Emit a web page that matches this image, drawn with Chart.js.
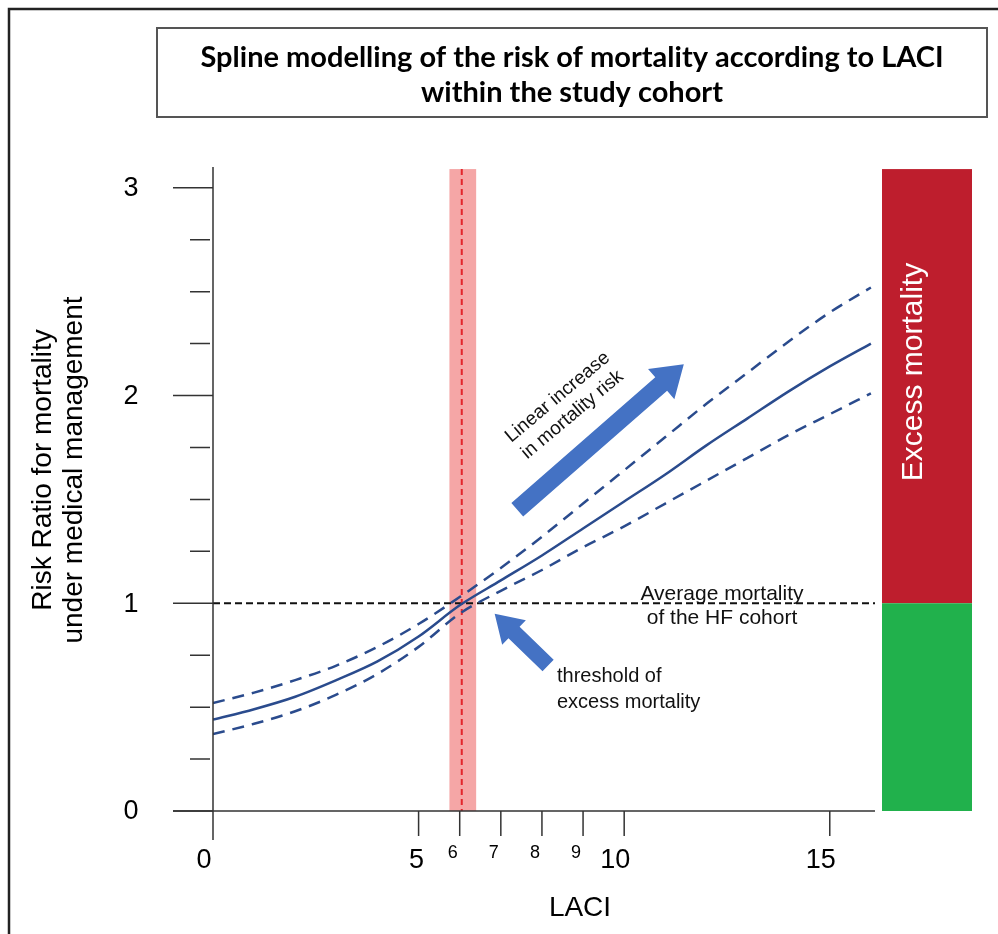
<!DOCTYPE html>
<html>
<head>
<meta charset="utf-8">
<script src="https://cdn.jsdelivr.net/npm/chart.js@4"></script>
<style>
  html, body { margin: 0; padding: 0; background: #fff; }
</style>
</head>
<body>
<canvas id="myChart" width="998" height="934"></canvas>
<script>
// spline, one value per LACI unit
let laci = [0, 1, 2, 3, 4, 5, 6, 7, 8, 9, 10, 11, 12, 13, 14, 15, 16];
let riskRatio = [0.44, 0.49, 0.55, 0.63, 0.72, 0.84, 0.99, 1.11, 1.23, 1.36, 1.49, 1.62, 1.76, 1.89, 2.02, 2.14, 2.25];
let upperCI = [0.52, 0.57, 0.63, 0.70, 0.79, 0.90, 1.03, 1.17, 1.32, 1.48, 1.64, 1.80, 1.96, 2.11, 2.26, 2.40, 2.52];
let lowerCI = [0.37, 0.42, 0.48, 0.56, 0.66, 0.79, 0.95, 1.06, 1.16, 1.27, 1.37, 1.48, 1.59, 1.70, 1.81, 1.91, 2.01];

// axis ticks
let yMajorTicks = [0, 1, 2, 3];
let yMinorTicks = [0.25, 0.5, 0.75, 1.25, 1.5, 1.75, 2.25, 2.5, 2.75];
let xBigTicks = [0, 5, 10, 15];
let xSmallTicks = [6, 7, 8, 9];

// threshold of excess mortality and its band, average risk line
let threshold = 6.05;
let thresholdBand = [5.75, 6.4];
let averageRisk = 1;

const curveBlue = '#2a4b8d';
const arrowBlue = '#4472c4';
const sans = '"Liberation Sans", Arial, sans-serif';

function toPoints(ys) {
  return laci.map((x, i) => ({ x: x, y: ys[i] }));
}

function drawArrow(ctx, x1, y1, x2, y2, shaft, head, headLen) {
  const ang = Math.atan2(y2 - y1, x2 - x1);
  const len = Math.hypot(x2 - x1, y2 - y1);
  ctx.save();
  ctx.translate(x1, y1);
  ctx.rotate(ang);
  ctx.beginPath();
  ctx.moveTo(0, -shaft / 2);
  ctx.lineTo(len - headLen, -shaft / 2);
  ctx.lineTo(len - headLen, -head / 2);
  ctx.lineTo(len, 0);
  ctx.lineTo(len - headLen, head / 2);
  ctx.lineTo(len - headLen, shaft / 2);
  ctx.lineTo(0, shaft / 2);
  ctx.closePath();
  ctx.fillStyle = arrowBlue;
  ctx.fill();
  ctx.restore();
}

const decor = {
  id: 'decor',
  beforeDatasetsDraw(chart) {
    const ctx = chart.ctx;
    const xs = chart.scales.x, ys = chart.scales.y;
    const top = ys.getPixelForValue(3.09), bottom = ys.getPixelForValue(0);

    // band around the threshold
    const b1 = xs.getPixelForValue(thresholdBand[0]);
    const b2 = xs.getPixelForValue(thresholdBand[1]);
    ctx.fillStyle = '#f5a6a6';
    ctx.fillRect(b1, top, b2 - b1, bottom - top);

    // average mortality line
    ctx.save();
    ctx.strokeStyle = '#111';
    ctx.lineWidth = 2;
    ctx.setLineDash([7, 4]);
    ctx.beginPath();
    ctx.moveTo(xs.getPixelForValue(0), ys.getPixelForValue(averageRisk));
    ctx.lineTo(xs.right, ys.getPixelForValue(averageRisk));
    ctx.stroke();

    // threshold line
    ctx.strokeStyle = '#e3262c';
    ctx.setLineDash([6, 4]);
    ctx.beginPath();
    ctx.moveTo(xs.getPixelForValue(threshold), top);
    ctx.lineTo(xs.getPixelForValue(threshold), bottom);
    ctx.stroke();
    ctx.restore();
  },
  afterDatasetsDraw(chart) {
    const ctx = chart.ctx;
    const xs = chart.scales.x, ys = chart.scales.y;
    const x0 = xs.getPixelForValue(0), y0 = ys.getPixelForValue(0);

    // outer frame (left and top only)
    ctx.strokeStyle = '#222';
    ctx.lineWidth = 2.5;
    ctx.beginPath();
    ctx.moveTo(9, 934);
    ctx.lineTo(9, 9);
    ctx.lineTo(998, 9);
    ctx.stroke();

    // title box
    ctx.strokeStyle = '#555';
    ctx.lineWidth = 2;
    ctx.strokeRect(157, 28, 830, 89);
    ctx.fillStyle = '#000';
    ctx.textAlign = 'center';
    ctx.textBaseline = 'middle';
    ctx.font = 'bold 29px Lato, "Open Sans", sans-serif';
    ctx.fillText('Spline modelling of the risk of mortality according to LACI', 572, 58);
    ctx.fillText('within the study cohort', 572, 93);

    // axes
    ctx.strokeStyle = '#333';
    ctx.lineWidth = 1.5;
    ctx.beginPath();
    ctx.moveTo(x0, ys.top);
    ctx.lineTo(x0, y0 + 29);
    ctx.moveTo(173, y0);
    ctx.lineTo(xs.right, y0);
    ctx.stroke();

    // y ticks
    ctx.beginPath();
    yMajorTicks.forEach(v => {
      const p = ys.getPixelForValue(v);
      ctx.moveTo(173, p);
      ctx.lineTo(x0, p);
    });
    yMinorTicks.forEach(v => {
      const p = ys.getPixelForValue(v);
      ctx.moveTo(190, p);
      ctx.lineTo(x0 - 3, p);
    });
    // x ticks
    xBigTicks.concat(xSmallTicks).forEach(v => {
      if (v === 0) return;
      const p = xs.getPixelForValue(v);
      ctx.moveTo(p, y0);
      ctx.lineTo(p, y0 + 25);
    });
    ctx.stroke();

    // tick labels
    ctx.fillStyle = '#000';
    ctx.font = '27px ' + sans;
    ctx.textAlign = 'center';
    ctx.textBaseline = 'middle';
    yMajorTicks.forEach(v => {
      ctx.fillText(String(v), 131, ys.getPixelForValue(v) + 1);
    });
    xBigTicks.forEach(v => {
      ctx.fillText(String(v), xs.getPixelForValue(v) - (v === 5 ? 2 : 9), y0 + 50);
    });
    ctx.font = '18px ' + sans;
    xSmallTicks.forEach(v => {
      ctx.fillText(String(v), xs.getPixelForValue(v) - 7, y0 + 42);
    });

    // axis titles
    ctx.font = '28px ' + sans;
    ctx.fillText('LACI', 580, 908);
    ctx.save();
    ctx.translate(43, 470);
    ctx.rotate(-Math.PI / 2);
    ctx.fillText('Risk Ratio for mortality', 0, 0);
    ctx.fillText('under medical management', 0, 31);
    ctx.restore();

    // side bar: excess mortality above the average risk
    const yAvg = ys.getPixelForValue(averageRisk);
    const yTop = ys.getPixelForValue(3.09);
    ctx.fillStyle = '#be1e2d';
    ctx.fillRect(882, yTop, 90, yAvg - yTop);
    ctx.fillStyle = '#21b14c';
    ctx.fillRect(882, yAvg, 90, y0 - yAvg);
    ctx.save();
    ctx.translate(914, 372);
    ctx.rotate(-Math.PI / 2);
    ctx.fillStyle = '#fff';
    ctx.font = '30px ' + sans;
    ctx.fillText('Excess mortality', 0, 0);
    ctx.restore();

    // annotations
    ctx.fillStyle = '#111';
    ctx.font = '21px ' + sans;
    ctx.fillText('Average mortality', 722, 594);
    ctx.fillText('of the HF cohort', 722, 618);
    ctx.textAlign = 'left';
    ctx.font = '20px ' + sans;
    ctx.fillText('threshold of', 557, 676);
    ctx.fillText('excess mortality', 557, 702);

    drawArrow(ctx, xs.getPixelForValue(8.15), ys.getPixelForValue(0.70),
      xs.getPixelForValue(6.85), ys.getPixelForValue(0.95), 16, 34, 27);
    drawArrow(ctx, xs.getPixelForValue(7.4), ys.getPixelForValue(1.45),
      xs.getPixelForValue(11.45), ys.getPixelForValue(2.15), 18, 40, 30);

    ctx.save();
    ctx.translate(565, 406);
    ctx.rotate(-40 * Math.PI / 180);
    ctx.textAlign = 'center';
    ctx.fillStyle = '#111';
    ctx.font = '19px ' + sans;
    ctx.fillText('Linear increase', 0, -11.5);
    ctx.fillText('in mortality risk', 0, 11.5);
    ctx.restore();
  }
};

let ctx = document.getElementById('myChart').getContext('2d');

var chart = new Chart(ctx, {
  type: 'line',
  data: {
    datasets: [
      {
        label: 'Upper CI',
        data: toPoints(upperCI),
        borderColor: curveBlue,
        borderWidth: 2.5,
        borderDash: [12, 8],
        pointRadius: 0,
        fill: false,
        cubicInterpolationMode: 'monotone'
      },
      {
        label: 'Risk ratio',
        data: toPoints(riskRatio),
        borderColor: curveBlue,
        borderWidth: 2.5,
        pointRadius: 0,
        fill: false,
        cubicInterpolationMode: 'monotone'
      },
      {
        label: 'Lower CI',
        data: toPoints(lowerCI),
        borderColor: curveBlue,
        borderWidth: 2.5,
        borderDash: [12, 8],
        pointRadius: 0,
        fill: false,
        cubicInterpolationMode: 'monotone'
      }
    ]
  },
  options: {
    responsive: false,
    animation: false,
    layout: { padding: { left: 213, right: 123, top: 167, bottom: 123 } },
    plugins: {
      legend: { display: false },
      tooltip: { enabled: false }
    },
    scales: {
      x: { type: 'linear', min: 0, max: 16.1, display: false },
      y: { type: 'linear', min: 0, max: 3.1, display: false }
    }
  },
  plugins: [decor]
});
</script>
</body>
</html>
